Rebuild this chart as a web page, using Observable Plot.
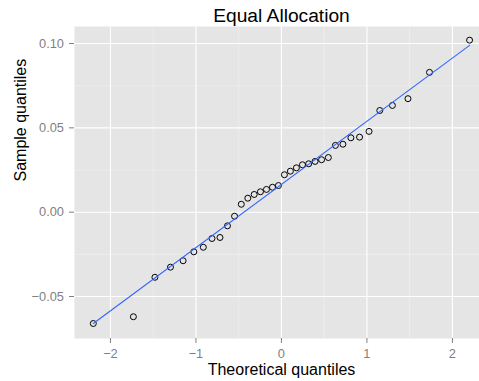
<!DOCTYPE html>
<html><head><meta charset="utf-8">
<script src="https://cdn.jsdelivr.net/npm/d3@7"></script>
<script src="https://cdn.jsdelivr.net/npm/@observablehq/plot@0.6"></script>
<style>html,body{margin:0;padding:0;background:#fff;} svg{display:block;}</style>
</head><body><div id="chart"></div>
<script>
const title = "Equal Allocation";
const xLabel = "Theoretical quantiles";
const yLabel = "Sample quantiles";
const theoretical = [-2.2004, -1.7317, -1.4799, -1.2979, -1.1503, -1.0246, -0.9136, -0.8122, -0.7189, -0.6314, -0.5485, -0.4695, -0.3933, -0.3186, -0.2457, -0.1750, -0.1046, -0.0348,
  0.0348, 0.1046, 0.1750, 0.2457, 0.3186, 0.3933, 0.4695, 0.5485, 0.6314, 0.7189, 0.8122, 0.9136, 1.0246, 1.1503, 1.2979, 1.4799, 1.7317, 2.2004];
const sample = [-0.0660, -0.0620, -0.0386, -0.0326, -0.0288, -0.0235, -0.0208, -0.0156, -0.0150, -0.0081, -0.0024, 0.0047, 0.0083, 0.0105, 0.0121, 0.0135, 0.0148, 0.0158,
  0.0222, 0.0243, 0.0263, 0.0281, 0.0287, 0.0301, 0.0311, 0.0324, 0.0396, 0.0403, 0.0441, 0.0445, 0.0479, 0.0603, 0.0633, 0.0673, 0.0829, 0.1020];
const lineX = [-2.2004, 2.2004];
const lineY = [-0.0660, 0.0989];
const xTicks = [-2, -1, 0, 1, 2];
const xTickLabels = ["\u22122", "\u22121", "0", "1", "2"];
const xMinor = [-1.5, -0.5, 0.5, 1.5];
const yTicks = [-0.05, 0, 0.05, 0.10];
const yTickLabels = ["\u22120.05", "0.00", "0.05", "0.10"];
const yMinor = [-0.075, -0.025, 0.025, 0.075];

const points = theoretical.map((t, i) => ({t, s: sample[i]}));
const line = lineX.map((x, i) => ({x, y: lineY[i]}));
const font = "'Liberation Sans', Arial, Helvetica, sans-serif";

const chart = Plot.plot({
  width: 479, height: 381,
  marginLeft: 74, marginRight: 0, marginTop: 26, marginBottom: 43,
  style: {fontFamily: font, background: "#fff", overflow: "visible"},
  x: {domain: [-2.4204, 2.3166]},
  y: {domain: [-0.0749, 0.1101]},
  marks: [
    Plot.frame({fill: "#e5e5e5", stroke: null}),
    Plot.gridX(xMinor, {stroke: "#f2f2f2", strokeOpacity: 1, strokeWidth: 0.6}),
    Plot.gridY(yMinor, {stroke: "#f2f2f2", strokeOpacity: 1, strokeWidth: 0.6}),
    Plot.gridX(xTicks, {stroke: "#ffffff", strokeOpacity: 1, strokeWidth: 1.1}),
    Plot.gridY(yTicks, {stroke: "#ffffff", strokeOpacity: 1, strokeWidth: 1.1}),
    Plot.axisX(xTicks, {tickFormat: d => xTickLabels[xTicks.indexOf(d)], tickSize: 5, tickPadding: 5, color: "#7f7f7f", fontSize: 12.8, label: null}),
    Plot.axisY(yTicks, {tickFormat: d => yTickLabels[yTicks.indexOf(d)], tickSize: 5, tickPadding: 5.5, color: "#7f7f7f", fontSize: 12.8, label: null}),
    Plot.dot(points, {x: "t", y: "s", r: 3, stroke: "#000", strokeWidth: 1, fill: "none"}),
    Plot.line(line, {x: "x", y: "y", stroke: "#3366ff", strokeWidth: 1.1}),
    Plot.text([title], {text: d => d, frameAnchor: "top", lineAnchor: "bottom", dx: 4.5, dy: -5, fontSize: 19.2, fill: "#000"}),
    Plot.text([xLabel], {text: d => d, frameAnchor: "bottom", lineAnchor: "bottom", dx: 4.5, dy: 36, fontSize: 16, fill: "#000"}),
    Plot.text([yLabel], {text: d => d, frameAnchor: "left", lineAnchor: "bottom", rotate: -90, dx: -49, dy: -1, fontSize: 16, fill: "#000"})
  ]
});
document.getElementById("chart").appendChild(chart);
</script>
</body></html>
